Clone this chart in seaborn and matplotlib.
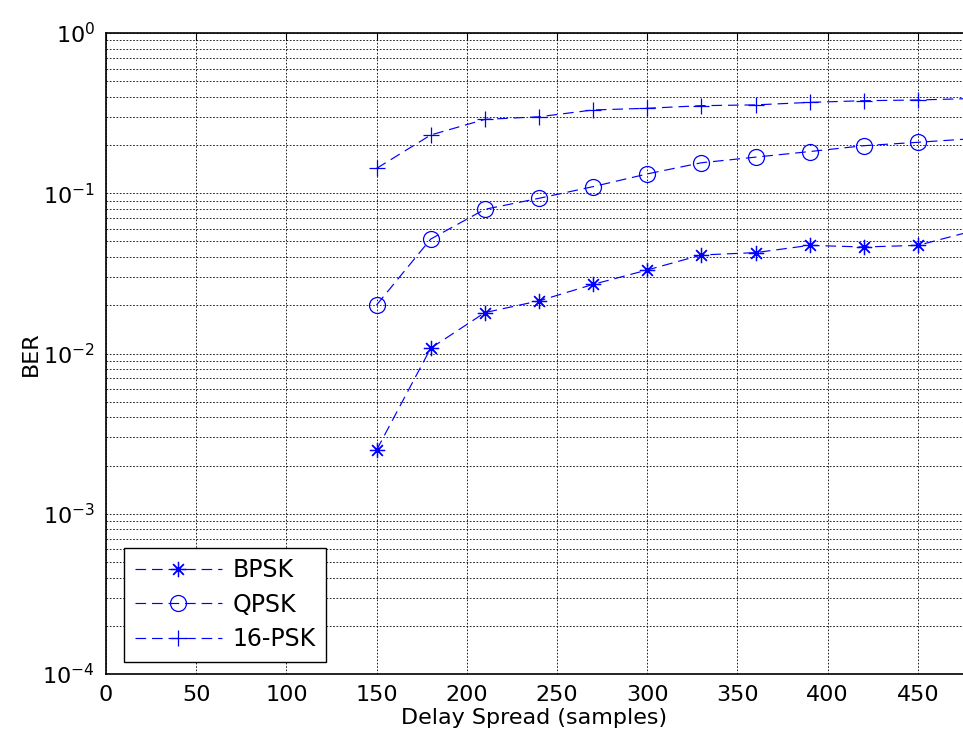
import numpy as np
import pandas as pd
import matplotlib
matplotlib.use("Agg")
import matplotlib.pyplot as plt
from matplotlib.ticker import LogLocator, FixedLocator
import seaborn as sns

# Delay spread values (samples)
delay = [150, 180, 210, 240, 270, 300, 330, 360, 390, 420, 450, 480]

# Bit error rate for each modulation
ber_bpsk = [0.0025, 0.0108, 0.0180, 0.0213, 0.0270, 0.0332, 0.0412, 0.0426,
            0.0473, 0.0462, 0.0473, 0.0580]
ber_qpsk = [0.0201, 0.0518, 0.0794, 0.0930, 0.1100, 0.1320, 0.1550, 0.1680,
            0.1820, 0.1980, 0.2080, 0.2190]
ber_16psk = [0.143, 0.231, 0.289, 0.300, 0.331, 0.339, 0.352, 0.356,
             0.369, 0.378, 0.382, 0.390]

series = ["BPSK", "QPSK", "16-PSK"]
markers = {"BPSK": (8, 2, 0), "QPSK": "o", "16-PSK": "+"}
msizes = {"BPSK": 11, "QPSK": 11.5, "16-PSK": 12}

df = pd.DataFrame({
    "delay": delay * 3,
    "ber": ber_bpsk + ber_qpsk + ber_16psk,
    "mod": [s for s in series for _ in delay],
})

sns.set_style("white")
plt.rcParams["font.family"] = ["DejaVu Sans"]
plt.rcParams["mathtext.default"] = "regular"
plt.rcParams["text.color"] = "black"
plt.rcParams["axes.labelcolor"] = "black"

FS = 16

fig = plt.figure(figsize=(9.63, 7.38), dpi=100)
ax = fig.add_axes([106 / 963, 1 - 674 / 738, 857 / 963, 641 / 738])

for name in series:
    sub = df[df["mod"] == name]
    sns.lineplot(data=sub, x="delay", y="ber", ax=ax, color="blue",
                 linestyle=(0, (9, 5)), linewidth=0.85,
                 marker=markers[name], markersize=msizes[name],
                 mfc="none", mec="blue", mew=0.9, label=name, legend=False)

ax.set_yscale("log")
ax.set_xlim(0, 475)
ax.set_ylim(1e-4, 1)
ax.xaxis.set_major_locator(FixedLocator(np.arange(0, 451, 50)))
ax.yaxis.set_major_locator(LogLocator(base=10, numticks=10))
ax.yaxis.set_minor_locator(LogLocator(base=10, subs=np.arange(2, 10), numticks=20))

grid_kw = dict(color="black", linestyle=(0, (2, 2)), linewidth=0.6)
ax.xaxis.grid(True, which="major", **grid_kw)
ax.yaxis.grid(True, which="both", **grid_kw)

ax.tick_params(axis="both", which="both", direction="in", top=True,
               right=False, labelsize=FS, colors="black")
ax.tick_params(axis="both", which="major", length=5, width=0.8, pad=8)
ax.tick_params(axis="y", which="minor", length=3, width=0.6)

for side in ["left", "bottom", "top"]:
    ax.spines[side].set_color("black")
    ax.spines[side].set_linewidth(1.2)
ax.spines["right"].set_visible(False)

ax.set_xlabel("Delay Spread (samples)", fontsize=FS, labelpad=2)
ax.set_ylabel("BER", fontsize=FS, labelpad=1)

leg = ax.legend(loc="lower left", bbox_to_anchor=(18 / 857, 12 / 641),
                borderaxespad=0, fontsize=17, handlelength=3.7,
                fancybox=False, framealpha=1, edgecolor="black",
                labelspacing=0.45, borderpad=0.45, handletextpad=0.45)
leg.get_frame().set_linewidth(1.0)

fig.savefig("out.png", dpi=100)
